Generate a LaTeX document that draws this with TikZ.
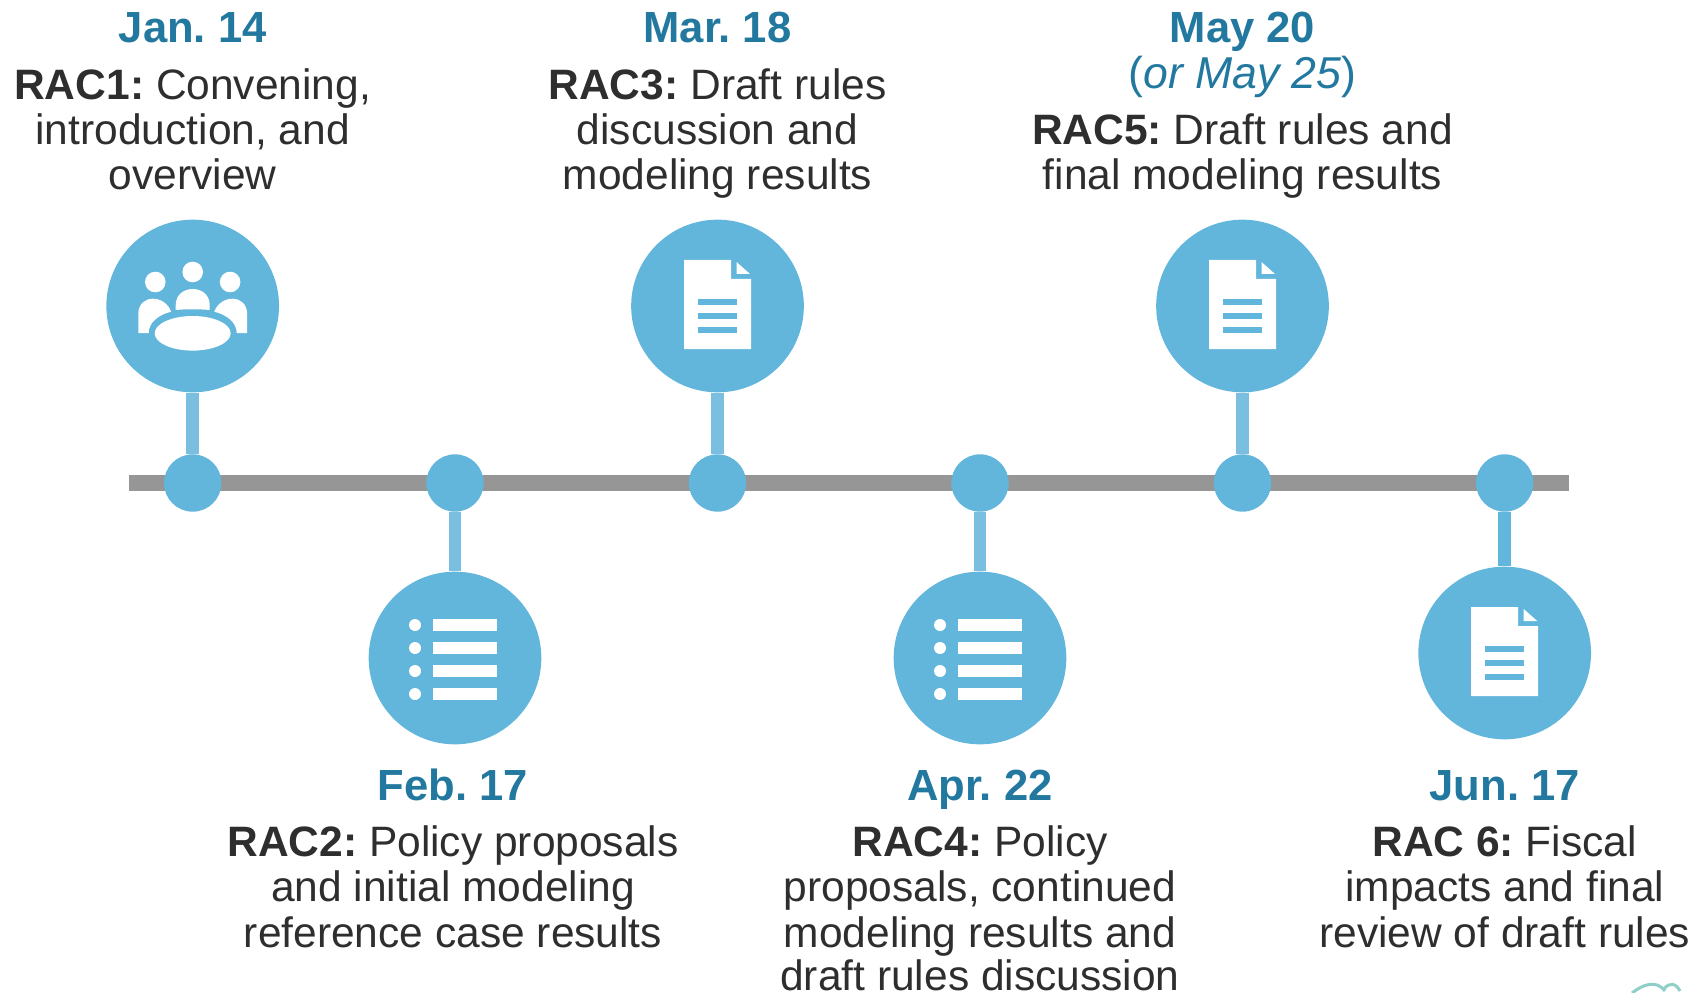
\documentclass[tikz,border=0pt]{standalone}
\usepackage{fontspec}
\setmainfont{Liberation Sans}
\frenchspacing
\definecolor{racblue}{HTML}{62B5DB}
\definecolor{racstem}{HTML}{7ABFE0}
\definecolor{racbar}{HTML}{969696}
\definecolor{racdate}{HTML}{22789F}
\definecolor{ractext}{HTML}{2E2E2E}
\definecolor{raccloud}{HTML}{8FCFC8}
\tikzset{
    bigdot/.style={circle, fill=racblue, minimum size=3.454cm, inner sep=0pt},
    smalldot/.style={circle, fill=racblue, minimum size=1.148cm, inner sep=0pt},
    stem/.style={racstem, line width=0.25cm},
    datelabel/.style={text=racdate, font=\fontsize{24.8}{25.8}\selectfont\bfseries, align=center, inner sep=0pt, anchor=base},
    raclabel/.style={text=ractext, font=\fontsize{24.2}{25.8}\selectfont, align=center, inner sep=0pt, anchor=north},
    pics/docicon/.style={code={
        \fill[white] (-33.5,-46) -- (13.5,-46) -- (13.5,-27) -- (33.5,-27) -- (33.5,43) -- (-33.5,43) -- cycle;
        \fill[white] (19,-44) -- (32.5,-32) -- (19,-32) -- cycle;
        \fill[racblue] (-19.5,-7) rectangle (19.5,-1);
        \fill[racblue] (-19.5,7) rectangle (19.5,13);
        \fill[racblue] (-19.5,21) rectangle (19.5,27);
    }},
    pics/listicon/.style={code={
        \foreach \r in {-33,-10,13,36} {
            \fill[white] (-40,\r) circle (6);
            \fill[white] (-22,\r-6) rectangle (42,\r+6);
        }
    }}
}
\begin{document}
\begin{tikzpicture}[x=0.02cm, y=-0.02cm]
    \useasboundingbox (0,0) rectangle (1694,993);

    % Timeline bar
    \coordinate (barleft) at (129,483);
    \coordinate (barright) at (1569,483);
    \draw[racbar, line width=0.32cm] (barleft) -- (barright);

    % Dots on the bar
    \node[smalldot] (dot1) at (192.7,483) {};
    \node[smalldot] (dot2) at (455,483) {};
    \node[smalldot] (dot3) at (717.5,483) {};
    \node[smalldot] (dot4) at (980,483) {};
    \node[smalldot] (dot5) at (1242.5,483) {};
    \node[smalldot] (dot6) at (1504.7,483) {};

    % Big circles
    \node[bigdot] (rac1) at (192.7,306) {};
    \node[bigdot] (rac2) at (455,658) {};
    \node[bigdot] (rac3) at (717.5,306) {};
    \node[bigdot] (rac4) at (980,658) {};
    \node[bigdot] (rac5) at (1242.5,306) {};
    \node[bigdot] (rac6) at (1504.7,653) {};

    % Stems
    \draw[stem] (rac1) -- (dot1);
    \draw[stem] (rac2) -- (dot2);
    \draw[stem] (rac3) -- (dot3);
    \draw[stem] (rac4) -- (dot4);
    \draw[stem] (rac5) -- (dot5);
    \draw[stem, racblue] (rac6) -- (dot6);

    % Meeting icon
    \begin{scope}[shift={(192.7,306)}]
        \fill[white] (0,-34) circle (10.3);
        \fill[white] (-37.4,-24) circle (10.3);
        \fill[white] (37.4,-24) circle (10.3);
        \fill[white] (-17,4) -- (-17,-1) .. controls (-17,-22.3) and (17,-22.3) .. (17,-1) -- (17,4) .. controls (6,3) and (-6,3) .. (-17,4) -- cycle;
        \fill[white] (-54.4,27) -- (-54.4,8) .. controls (-54.4,-12) and (-28,-12) .. (-21.6,5.7) .. controls (-35,9) and (-44,17) .. (-44,27) -- cycle;
        \fill[white] (54.4,27) -- (54.4,8) .. controls (54.4,-12) and (28,-12) .. (21.6,5.7) .. controls (35,9) and (44,17) .. (44,27) -- cycle;
        \fill[white] (0,27.3) ellipse (38 and 17.3);
    \end{scope}

    % Icons
    \pic at (717.5,306) {docicon};
    \pic at (1242.5,306) {docicon};
    \pic at (1504.7,653) {docicon};
    \pic at (455,658) {listicon};
    \pic at (980,658) {listicon};

    % Labels above the bar
    \node[datelabel] at (192.7,43) {Jan. 14};
    \node[raclabel] at (192.7,68) {\textbf{RAC1:} Convening,\\introduction, and\\overview};
    \node[datelabel] at (717.5,43) {Mar. 18};
    \node[raclabel] at (717.5,68) {\textbf{RAC3:} Draft rules\\discussion and\\modeling results};
    \node[datelabel] at (1242.5,43) {May 20};
    \node[datelabel, font=\fontsize{25.4}{25.8}\selectfont] at (1242.5,89) {(\textit{or May 25})};
    \node[raclabel] at (1242.5,113.5) {\textbf{RAC5:} Draft rules and\\final modeling results};

    % Labels below the bar
    \node[datelabel] at (453,800) {Feb. 17};
    \node[raclabel] at (453,825.5) {\textbf{RAC2:} Policy proposals\\and initial modeling\\reference case results};
    \node[datelabel] at (980,800) {Apr. 22};
    \node[raclabel] at (980,825.5) {\textbf{RAC4:} Policy\\proposals, continued\\modeling results and\\[-1.2pt]draft rules discussion};
    \node[datelabel] at (1504.7,800) {Jun. 17};
    \node[raclabel] at (1504.7,825.5) {\textbf{RAC 6:} Fiscal\\impacts and final\\review of draft rules};

    % Cut off corner mark
    \draw[raccloud, line width=0.06cm] (1632,993) .. controls (1642,985) and (1656,979) .. (1665,991);
    \draw[raccloud, line width=0.06cm] (1664,989) .. controls (1669,982) and (1676,983) .. (1680,991);
\end{tikzpicture}
\end{document}
